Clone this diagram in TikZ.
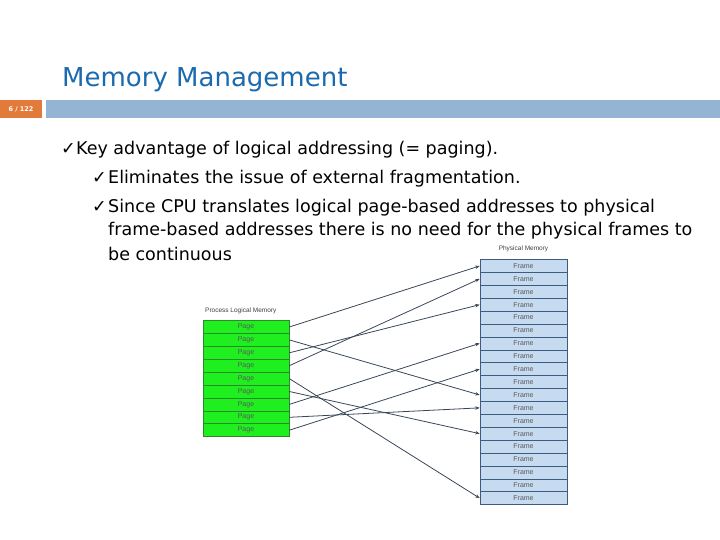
\documentclass[tikz,border=0pt]{standalone}
\usepackage{fontspec}
\setmainfont{DejaVu Sans}
\newfontfamily\diagramfont{Liberation Sans}
\definecolor{titleblue}{HTML}{1B6AAE}
\definecolor{slideorange}{HTML}{E27A3A}
\definecolor{barblue}{HTML}{93B5D3}
\definecolor{pagegreen}{HTML}{1FEF1F}
\definecolor{pageborder}{HTML}{2A8A2A}
\definecolor{framefill}{HTML}{C6DAF0}
\definecolor{frameborder}{HTML}{3E5C82}
\definecolor{mapgray}{HTML}{394657}
\usetikzlibrary{arrows.meta,positioning}
\tikzset{
    bullettext/.style={
        anchor=base west,
        inner sep=0pt,
        font=\fontsize{17.5}{21}\selectfont
    },
    pagecell/.style={
        draw=pageborder,
        fill=pagegreen,
        line width=0.6pt,
        minimum width=86pt,
        minimum height=12.9pt,
        inner sep=0pt,
        text=black!65,
        font=\diagramfont\fontsize{7}{8}\selectfont
    },
    framecell/.style={
        draw=frameborder,
        fill=framefill,
        line width=0.6pt,
        minimum width=87pt,
        minimum height=12.9pt,
        inner sep=0pt,
        text=black!65,
        font=\diagramfont\fontsize{7}{8}\selectfont
    },
    maparrow/.style={
        -{Stealth[length=4.5pt,width=3.5pt]},
        draw=mapgray,
        line width=0.8pt
    },
    memorylabel/.style={
        inner sep=0pt,
        text=black!75,
        font=\diagramfont\fontsize{6.5}{7}\selectfont
    }
}

\begin{document}
\begin{tikzpicture}[x=1pt,y=-1pt]
        \useasboundingbox (0,0) rectangle (720,540);

        % header
        \node[anchor=base west,inner sep=0pt,text=titleblue,
            font=\fontsize{26}{31}\selectfont] (title) at (62,87) {Memory Management};
        \node[fill=slideorange,minimum width=42pt,minimum height=18pt,inner sep=0pt,
            text=white,font=\fontsize{6.5}{7}\selectfont\bfseries] (slideno) at (21,109) {6 / 122};
        \node[fill=barblue,minimum width=674pt,minimum height=18pt,inner sep=0pt,
            anchor=west] (bar) at (46,109) {};

        % bullets
        \node[bullettext] (tick1) at (61,155) {✓};
        \node[bullettext] (line1) at (76,155) {Key advantage of logical addressing (= paging).};
        \node[bullettext] (tick2) at (92,184) {✓};
        \node[bullettext] (line2) at (108,184) {Eliminates the issue of external fragmentation.};
        \node[bullettext] (tick3) at (92,212) {✓};
        \node[bullettext] (line3) at (108,212) {Since CPU translates logical page-based addresses to physical};
        \node[bullettext] (line4) at (108,236) {frame-based addresses there is no need for the physical frames to};
        \node[bullettext] (line5) at (108,260) {be continuous};

        % logical memory
        \node[memorylabel,anchor=west] (logicallabel) at (205,311) {Process Logical Memory};
        \node[pagecell] (page1) at (246,327.0) {Page};
        \node[pagecell] (page2) at (246,339.9) {Page};
        \node[pagecell] (page3) at (246,352.8) {Page};
        \node[pagecell] (page4) at (246,365.7) {Page};
        \node[pagecell] (page5) at (246,378.6) {Page};
        \node[pagecell] (page6) at (246,391.5) {Page};
        \node[pagecell] (page7) at (246,404.4) {Page};
        \node[pagecell] (page8) at (246,417.3) {Page};
        \node[pagecell] (page9) at (246,430.2) {Page};

        % physical memory
        \node[memorylabel] (physicallabel) at (523.5,249) {Physical Memory};
        \node[framecell] (frame1) at (523.5,265.95) {Frame};
        \node[framecell] (frame2) at (523.5,278.85) {Frame};
        \node[framecell] (frame3) at (523.5,291.75) {Frame};
        \node[framecell] (frame4) at (523.5,304.65) {Frame};
        \node[framecell] (frame5) at (523.5,317.55) {Frame};
        \node[framecell] (frame6) at (523.5,330.45) {Frame};
        \node[framecell] (frame7) at (523.5,343.35) {Frame};
        \node[framecell] (frame8) at (523.5,356.25) {Frame};
        \node[framecell] (frame9) at (523.5,369.15) {Frame};
        \node[framecell] (frame10) at (523.5,382.05) {Frame};
        \node[framecell] (frame11) at (523.5,394.95) {Frame};
        \node[framecell] (frame12) at (523.5,407.85) {Frame};
        \node[framecell] (frame13) at (523.5,420.75) {Frame};
        \node[framecell] (frame14) at (523.5,433.65) {Frame};
        \node[framecell] (frame15) at (523.5,446.55) {Frame};
        \node[framecell] (frame16) at (523.5,459.45) {Frame};
        \node[framecell] (frame17) at (523.5,472.35) {Frame};
        \node[framecell] (frame18) at (523.5,485.25) {Frame};
        \node[framecell] (frame19) at (523.5,498.15) {Frame};

        % page table mapping
        \draw[maparrow] (page1.east) -- (frame1.west);
        \draw[maparrow] (page2.east) -- (frame11.west);
        \draw[maparrow] (page3.east) -- (frame4.west);
        \draw[maparrow] (page4.east) -- (frame2.west);
        \draw[maparrow] (page5.east) -- (frame19.west);
        \draw[maparrow] (page6.east) -- (frame14.west);
        \draw[maparrow] (page7.east) -- (frame7.west);
        \draw[maparrow] (page8.east) -- (frame12.west);
        \draw[maparrow] (page9.east) -- (frame9.west);
    \end{tikzpicture}
\end{document}
